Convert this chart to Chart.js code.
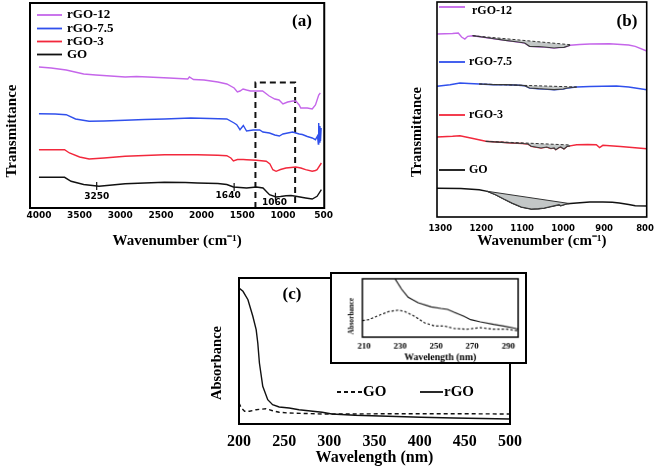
<!DOCTYPE html>
<html lang="en">
<head>
<meta charset="UTF-8">
<title>FTIR and UV-Vis spectra of GO / rGO</title>
<script src="https://cdnjs.cloudflare.com/ajax/libs/Chart.js/4.4.0/chart.umd.min.js"></script>
<style>
    body { margin: 0; width: 661px; height: 466px; background: #fff; position: relative; overflow: hidden; }
    canvas { position: absolute; }
    #ftirA { left: 0; top: 0; }
    #ftirB { left: 340px; top: 0; }
    #uvC { left: 190px; top: 265px; }
    #uvInset { left: 330px; top: 272px; border: 2px solid #000; background: #fff; }
</style>
</head>
<body>
<canvas id="ftirA" width="335" height="250"></canvas>
<canvas id="ftirB" width="321" height="250"></canvas>
<canvas id="uvC" width="340" height="201"></canvas>
<canvas id="uvInset" width="197" height="92"></canvas>
<script>
// ---------- (a) FTIR, 4000-500 cm-1 ----------
const aTicks = [4000, 3500, 3000, 2500, 2000, 1500, 1000, 500];
const aNames = ['rGO-12', 'rGO-7.5', 'rGO-3', 'GO'];
const aWave12 = [4000, 3850, 3665, 3450, 3300, 2940, 2800, 2660, 2400, 2170, 2150, 2100, 1970, 1800, 1690, 1600, 1560, 1528, 1490, 1447, 1400, 1366, 1290, 1250, 1169, 1100, 1048, 1000, 942, 880, 842, 800, 781, 700, 640, 600, 560, 540];
const aTrans12 = [141, 140, 138, 134, 133, 131, 131.5, 131, 130, 129, 131, 128.5, 128, 126, 124, 120, 116, 117, 119, 118, 117, 117, 117, 117, 112, 109, 108, 104, 106, 107, 107, 103, 100, 100, 99, 103, 113, 115];
const aWave75 = [4000, 3800, 3665, 3550, 3383, 3200, 2940, 2700, 2456, 2133, 1900, 1690, 1600, 1568, 1528, 1487, 1447, 1366, 1286, 1246, 1165, 1100, 1044, 1000, 882, 800, 761, 700, 640, 600, 575, 565, 560, 552, 545, 538, 530];
const aTrans75 = [94.3, 94, 93.3, 89, 86.7, 87, 87.7, 88.5, 89, 90, 89.5, 89, 85, 83.3, 78.3, 82.5, 77, 78, 78, 76, 75, 73, 72, 74, 76, 74, 73.5, 71.5, 70, 68.3, 72, 64, 85, 66, 82, 67, 80];
const aWave3 = [4000, 3800, 3685, 3625, 3500, 3383, 3200, 2940, 2700, 2456, 2052, 1800, 1690, 1640, 1609, 1560, 1488, 1447, 1326, 1205, 1160, 1124, 1084, 1030, 963, 900, 842, 780, 721, 640, 600, 580, 527];
const aTrans3 = [58.3, 58.3, 58.3, 55, 51, 49, 50, 51.7, 52.5, 53.3, 53.3, 52.8, 52.3, 50, 47, 48.5, 48.5, 48.3, 47.7, 46.7, 44, 38.3, 36.7, 38.5, 40, 40.5, 41, 40, 38.3, 36.7, 37.5, 38.3, 45];
const aWaveGO = [4000, 3800, 3685, 3605, 3450, 3262, 3100, 2940, 2700, 2456, 2200, 2052, 1800, 1690, 1608, 1447, 1326, 1245, 1165, 1084, 1030, 963, 900, 842, 721, 640, 580, 527];
const aTransGO = [30.7, 30.7, 30.7, 26.7, 23.5, 21.7, 23, 24.3, 25, 25.7, 25.5, 25, 24.5, 23.5, 21, 20, 21, 20, 13.3, 11, 11.5, 12.3, 12.5, 11.7, 10, 9, 11.7, 18.3];
const aBoxWave = [1338, 1338, 850, 850];
const aBoxTrans = [0, 125.6, 125.6, 0];
const aPeakWave = [3290, 1600, 1092];
const aPeakText = ['3250', '1640', '1060'];

// ---------- (b) FTIR, 1300-800 cm-1 ----------
const bTicks = [1300, 1200, 1100, 1000, 900, 800];
const bWave12 = [1308, 1270, 1256, 1248, 1240, 1233, 1221, 1181, 1141, 1110, 1094, 1082, 1060, 1046, 1022, 1010, 998, 983, 960, 935, 887, 840, 824, 796];
const bTrans12 = [183, 183.5, 184, 180, 178, 180.7, 181.3, 179, 176.7, 175, 174, 170.7, 170.3, 170, 169, 169.5, 169.7, 171.7, 172.5, 173, 173.3, 172, 170.7, 166];
const bBaseWave12 = [1221, 983];
const bBaseTrans12 = [181.3, 172.3];
const bWave75 = [1308, 1276, 1252, 1230, 1205, 1170, 1141, 1110, 1094, 1082, 1060, 1046, 1022, 1000, 990, 967, 935, 903, 870, 840, 824, 796];
const bTrans75 = [130.7, 132.3, 134, 133.5, 133, 132.3, 132.3, 131.8, 131.3, 129, 128.3, 128, 127.3, 128, 129, 130, 130.5, 130.7, 131, 130, 129, 127.3];
const bBaseWave75 = [1205, 967];
const bBaseTrans75 = [133, 130];
const bWave3 = [1308, 1270, 1252, 1220, 1189, 1150, 1125, 1100, 1086, 1078, 1054, 1040, 1030, 1022, 1018, 1010, 1006, 998, 990, 967, 940, 919, 911, 903, 860, 796];
const bTrans3 = [80, 80.7, 81.3, 78.5, 75.7, 74.7, 74, 73.5, 73, 70.7, 69, 70, 68.5, 69, 67.3, 69.5, 70, 68, 70.7, 72.3, 72.5, 72.3, 69.5, 71.7, 70.5, 68.3];
const bBaseWave3 = [1189, 983];
const bBaseTrans3 = [75.7, 72];
const bWaveGO = [1308, 1250, 1205, 1185, 1165, 1145, 1125, 1102, 1078, 1060, 1046, 1030, 1010, 1006, 990, 967, 935, 903, 880, 863, 840, 824, 796];
const bTransGO = [28.7, 28.5, 27.3, 25.7, 22.3, 18, 14, 10, 8, 8.3, 9, 10.5, 12.3, 11.3, 13.3, 14, 15, 15, 14.8, 14, 12.5, 11.3, 11];
const bBaseWaveGO = [1185, 985];
const bBaseTransGO = [25.7, 13.5];

// ---------- (c) UV-Vis ----------
const cTicks = [200, 250, 300, 350, 400, 450, 500];
const cNames = ['GO', 'rGO'];
const cWaveGO = [200, 202.6, 206.2, 211.7, 219, 229.9, 237.2, 244.5, 255.5, 292, 328.5, 365, 437.9, 500];
const cAbsGO = [21, 16, 12.7, 12.7, 14.3, 15.3, 13.3, 11.7, 11, 10, 10, 10.3, 10.3, 10];
const cWaveRGO = [200, 204.4, 209.9, 215.3, 219, 220.8, 222.6, 226.3, 231.8, 237.2, 244.5, 255.5, 266.4, 292, 302.9, 328.5, 365, 401.5, 437.9, 500];
const cAbsRGO = [136, 132.7, 124.3, 107.7, 94.3, 81, 61, 37.7, 24.3, 19.3, 17, 16, 14.3, 11.7, 10, 8.7, 7.7, 6.7, 6, 5];
const insetTicks = [210, 230, 250, 270, 290];
const iWaveGO = [209.1, 212.7, 218.2, 223.6, 229.1, 232.7, 238.2, 243.6, 249.1, 254.5, 260, 267.3, 274.5, 281.8, 289.1, 295.5];
const iAbsGO = [17.3, 18.3, 22.7, 26.7, 28.3, 26.7, 21.7, 15, 11.7, 11.7, 9, 8.3, 10, 8.3, 8.3, 6.7];
const iWaveRGO = [225, 227.3, 230.9, 234.5, 240, 247.3, 252.7, 256.4, 260, 265.5, 269.1, 274.5, 281.8, 287.3, 294.5, 295.5];
const iAbsRGO = [68, 60.7, 50, 41.7, 36, 31.7, 30, 29, 26, 21.7, 18.3, 16, 13.3, 11.7, 9, 8.7];

const SERIF = "'Liberation Serif', 'Times New Roman', serif";
const SANS = "'DejaVu Sans', sans-serif";
const ftirColors = ['#c566ea', '#3050ec', '#f2283c', '#111'];

Chart.defaults.color = '#000';
Chart.defaults.font.family = SERIF;
Chart.defaults.animation = false;
Chart.defaults.events = [];

const pts = (xs, ys) => xs.map((x, i) => ({ x, y: ys[i] }));

// linear interpolation on a (descending or ascending) x array
function interp(xs, ys, x) {
    for (let i = 0; i < xs.length - 1; i++) {
        const a = xs[i], b = xs[i + 1];
        if ((x - a) * (x - b) <= 0) {
            const t = (x - a) / (b - a);
            return ys[i] + t * (ys[i + 1] - ys[i]);
        }
    }
    return ys[ys.length - 1];
}

function label(ctx, text, x, y, font, align = 'left', rot = 0) {
    ctx.save();
    ctx.translate(x, y);
    if (rot) ctx.rotate(rot);
    ctx.font = font;
    ctx.fillStyle = '#000';
    ctx.textAlign = align;
    ctx.textBaseline = 'middle';
    ctx.fillText(text, 0, 0);
    ctx.restore();
}

function legendLine(ctx, x0, x1, y, color, dash) {
    ctx.save();
    ctx.strokeStyle = color;
    ctx.lineWidth = 1.8;
    ctx.setLineDash(dash || []);
    ctx.beginPath();
    ctx.moveTo(x0, y);
    ctx.lineTo(x1, y);
    ctx.stroke();
    ctx.restore();
}

const framePlugin = {
    id: 'frame',
    afterDatasetsDraw(chart, args, opts) {
        const { ctx, chartArea: a } = chart;
        ctx.save();
        ctx.strokeStyle = '#000';
        ctx.lineWidth = opts.width || 2;
        ctx.strokeRect(a.left, a.top, a.right - a.left, a.bottom - a.top);
        ctx.restore();
    }
};

function line(data, color, width, dash) {
    return {
        data, borderColor: color, borderWidth: width, borderDash: dash || [],
        showLine: true, pointRadius: 0, fill: false, tension: 0
    };
}

function xAxis(min, max, reverse, ticks, tickSize, tickFamily, tickPad, height, title, titleSize, titlePad) {
    return {
        type: 'linear', min, max, reverse,
        afterBuildTicks: s => { s.ticks = ticks.map(v => ({ value: v })); },
        afterFit: s => { s.height = height; },
        grid: { display: false, drawTicks: false },
        border: { display: false },
        ticks: {
            callback: v => String(v), maxRotation: 0, autoSkip: false,
            padding: tickPad, font: { size: tickSize, weight: 'bold', family: tickFamily }, color: '#000'
        },
        title: {
            display: true, text: title, color: '#000',
            font: { size: titleSize, weight: 'bold', family: SERIF, lineHeight: 1 },
            padding: { top: 0, bottom: titlePad }
        }
    };
}

function yAxis(min, max) {
    return { type: 'linear', min, max, display: false };
}

// ---------- chart (a) ----------
const aSeries = [[aWave12, aTrans12], [aWave75, aTrans75], [aWave3, aTrans3], [aWaveGO, aTransGO]];
new Chart(document.getElementById('ftirA'), {
    type: 'scatter',
    data: {
        datasets: aSeries.map((s, i) => line(pts(s[0], s[1]), ftirColors[i], 1.4))
            .concat([line(pts(aBoxWave, aBoxTrans), '#111', 2, [6, 4])])
    },
    options: {
        responsive: false,
        layout: { padding: { left: 30, top: 3, right: 6, bottom: 0 } },
        plugins: { legend: { display: false }, tooltip: { enabled: false }, frame: { width: 2 } },
        scales: {
            x: xAxis(492, 4110, true, aTicks, 9, SANS, 2, 42, 'Wavenumber (cm⁻¹)', 15, 1.5),
            y: yAxis(0, 205)
        }
    },
    plugins: [framePlugin, {
        id: 'decorA',
        afterDraw(chart) {
            const { ctx, scales: { x, y } } = chart;
            aNames.forEach((n, i) => {
                const yy = [15, 28.5, 41.5, 54.5][i];
                legendLine(ctx, 37, 62, yy, ftirColors[i]);
                label(ctx, n, 67, yy, 'bold 13px ' + SERIF);
            });
            label(ctx, '(a)', 302, 22, 'bold 17px ' + SERIF, 'center');
            label(ctx, 'Transmittance', 12, 131, 'bold 15px ' + SERIF, 'center', -Math.PI / 2);
            const dx = [0, -6, -1], dy = [10.5, 9, 6];
            aPeakWave.forEach((w, k) => {
                const px = x.getPixelForValue(w);
                const py = y.getPixelForValue(interp(aWaveGO, aTransGO, w));
                ctx.save();
                ctx.strokeStyle = '#111';
                ctx.lineWidth = 1.2;
                ctx.beginPath();
                ctx.moveTo(px, py - 4);
                ctx.lineTo(px, py + 4);
                ctx.stroke();
                ctx.restore();
                label(ctx, aPeakText[k], px + dx[k], py + dy[k], 'bold 9px ' + SANS, 'center');
            });
        }
    }]
});

// ---------- chart (b) ----------
const bSeries = [
    [bWave12, bTrans12, bBaseWave12, bBaseTrans12],
    [bWave75, bTrans75, bBaseWave75, bBaseTrans75],
    [bWave3, bTrans3, bBaseWave3, bBaseTrans3],
    [bWaveGO, bTransGO, bBaseWaveGO, bBaseTransGO]
];
const bDatasets = [];
bSeries.forEach((s, i) => {
    const [xs, ys, bx, by] = s;
    const lo = Math.min(bx[0], bx[1]), hi = Math.max(bx[0], bx[1]);
    const band = [{ x: bx[0], y: interp(xs, ys, bx[0]) }]
        .concat(pts(xs, ys).filter(p => p.x > lo && p.x < hi))
        .concat([{ x: bx[1], y: interp(xs, ys, bx[1]) }]);
    const curve = line(pts(xs, ys), ftirColors[i], 1.4);
    curve.order = 3;
    bDatasets.push(curve);
    const base = line(pts(bx, by), '#333', 1, i < 3 ? [3, 2] : []);
    base.order = 1;
    const baseIndex = bDatasets.length;
    bDatasets.push(base);
    const shade = line(band, '#3a3a3a', 1.2);
    shade.fill = baseIndex;
    shade.backgroundColor = '#c3c7c7';
    shade.order = 2;
    bDatasets.push(shade);
});
new Chart(document.getElementById('ftirB'), {
    type: 'scatter',
    data: { datasets: bDatasets },
    options: {
        responsive: false,
        layout: { padding: { left: 97, top: 2, right: 9, bottom: 0 } },
        plugins: { legend: { display: false }, tooltip: { enabled: false }, frame: { width: 1.6 } },
        scales: {
            x: xAxis(796, 1308, true, bTicks, 8.5, SANS, 7, 33, 'Wavenumber (cm⁻¹)', 15, 1.5),
            y: yAxis(0, 215)
        }
    },
    plugins: [framePlugin, {
        id: 'decorB',
        afterDraw(chart) {
            const ctx = chart.ctx;
            aNames.forEach((n, i) => {
                const yy = [7, 62, 115, 170][i];
                legendLine(ctx, 99, 125, yy, ftirColors[i]);
                label(ctx, n, i === 0 ? 132 : 129, i === 0 ? 11 : yy, 'bold 12px ' + SERIF);
            });
            label(ctx, '(b)', 287, 22, 'bold 17px ' + SERIF, 'center');
            label(ctx, 'Transmittance', 77, 132, 'bold 14.5px ' + SERIF, 'center', -Math.PI / 2);
        }
    }]
});

// ---------- chart (c) ----------
new Chart(document.getElementById('uvC'), {
    type: 'scatter',
    data: {
        datasets: [
            line(pts(cWaveGO, cAbsGO), '#111', 1.4, [4, 3]),
            line(pts(cWaveRGO, cAbsRGO), '#111', 1.4)
        ]
    },
    options: {
        responsive: false,
        layout: { padding: { left: 49, top: 13, right: 17, bottom: 0 } },
        plugins: { legend: { display: false }, tooltip: { enabled: false }, frame: { width: 2 } },
        scales: {
            x: xAxis(200, 500, false, cTicks, 16, SERIF, 8, 42, 'Wavelength (nm)', 16, 0),
            y: yAxis(0, 146)
        }
    },
    plugins: [framePlugin, {
        id: 'decorC',
        afterDraw(chart) {
            const ctx = chart.ctx;
            legendLine(ctx, 147, 172, 127, '#111', [4, 3]);
            label(ctx, cNames[0], 173, 127, 'bold 15px ' + SERIF);
            legendLine(ctx, 230, 253, 127, '#111');
            label(ctx, cNames[1], 254, 127, 'bold 15px ' + SERIF);
            label(ctx, '(c)', 102, 30, 'bold 17px ' + SERIF, 'center');
            label(ctx, 'Absorbance', 27, 98, 'bold 14.5px ' + SERIF, 'center', -Math.PI / 2);
        }
    }]
});

// ---------- inset ----------
new Chart(document.getElementById('uvInset'), {
    type: 'scatter',
    data: {
        datasets: [
            line(pts(iWaveGO, iAbsGO), '#111', 1.2, [2.5, 2]),
            line(pts(iWaveRGO, iAbsRGO), '#111', 1.2)
        ]
    },
    options: {
        responsive: false,
        layout: { padding: { left: 31, top: 5, right: 7, bottom: 0 } },
        plugins: { legend: { display: false }, tooltip: { enabled: false }, frame: { width: 1.5 } },
        scales: {
            x: xAxis(209.1, 295.5, false, insetTicks, 9, SERIF, 4, 26, 'Wavelength (nm)', 10, 0),
            y: yAxis(0, 61)
        }
    },
    plugins: [framePlugin, {
        id: 'decorInset',
        afterDraw(chart) {
            label(chart.ctx, 'Absorbance', 20, 44, 'bold 7.5px ' + SERIF, 'center', -Math.PI / 2);
        }
    }]
});
</script>
</body>
</html>
